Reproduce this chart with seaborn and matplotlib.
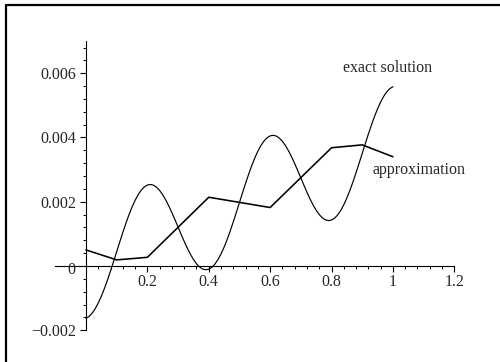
import matplotlib
matplotlib.use("Agg")
import matplotlib.pyplot as plt
from matplotlib.lines import Line2D
from matplotlib.ticker import FixedLocator
import pandas as pd
import seaborn as sns

# Exact solution sampled along [0, 1] in steps of 0.01
exact_x = [round(0.01 * i, 2) for i in range(101)]
exact_y = [-0.00163, -0.001571, -0.00147, -0.001331, -0.00115, -0.000943,
           -0.00070, -0.000438, -0.00015, 0.000142, 0.000445, 0.000748,
           0.001045, 0.001328, 0.001593, 0.001833, 0.002044, 0.002221,
           0.002361, 0.002461, 0.00252, 0.002538, 0.002514, 0.00245,
           0.00235, 0.002216, 0.002052, 0.001864, 0.001657, 0.001437,
           0.00121, 0.000984, 0.000764, 0.000556, 0.000368, 0.000205,
           0.00007, -0.00003, -0.000094, -0.000117, -0.0001, -0.000041,
           0.000059, 0.000199, 0.000376, 0.000587, 0.000827, 0.001092,
           0.001376, 0.001672, 0.001975, 0.002278, 0.002575, 0.002858,
           0.003123, 0.003363, 0.003574, 0.003751, 0.003891, 0.003991,
           0.00405, 0.004068, 0.004044, 0.00398, 0.00388, 0.003746,
           0.003582, 0.003394, 0.003187, 0.002967, 0.00274, 0.002514,
           0.002294, 0.002086, 0.001898, 0.001735, 0.0016, 0.0015,
           0.001436, 0.001413, 0.00143, 0.001489, 0.001589, 0.001729,
           0.001906, 0.002117, 0.002357, 0.002622, 0.002906, 0.003202,
           0.003505, 0.003808, 0.004105, 0.004388, 0.004653, 0.004893,
           0.005104, 0.005281, 0.005421, 0.005521, 0.00558]

# Piecewise-linear approximation at the nodes
approx_x = [0.0, 0.1, 0.2, 0.4, 0.6, 0.8, 0.9, 1.0]
approx_y = [0.0005, 0.00019, 0.00027, 0.00214, 0.00182, 0.00368, 0.00377, 0.0034]

x_ticks = [0.2, 0.4, 0.6, 0.8, 1.0, 1.2]
x_tick_labels = ["0.2", "0.4", "0.6", "0.8", "1", "1.2"]
y_ticks = [-0.002, 0.002, 0.004, 0.006]
y_tick_labels = ["\u22120.002", "0.002", "0.004", "0.006"]

sns.set_theme(style="white")
plt.rcParams["font.family"] = ["Liberation Serif", "DejaVu Serif"]

fig = plt.figure(figsize=(5.0, 3.62), dpi=100)
ax = fig.add_axes([0.1106, 0.0877, 0.798, 0.7988])

exact_df = pd.DataFrame({"x": exact_x, "y": exact_y})
approx_df = pd.DataFrame({"x": approx_x, "y": approx_y})

sns.lineplot(data=exact_df, x="x", y="y", ax=ax, color="black",
             linewidth=0.85, sort=False, estimator=None)
sns.lineplot(data=approx_df, x="x", y="y", ax=ax, color="black",
             linewidth=1.15, sort=False, estimator=None)

ax.set_xlim(-0.1, 1.2)
ax.set_ylim(-0.002, 0.007)
ax.set_xlabel("")
ax.set_ylabel("")

# Axes crossing at the origin
ax.spines["left"].set_position(("data", 0))
ax.spines["bottom"].set_position(("data", 0))
ax.spines["top"].set_visible(False)
ax.spines["right"].set_visible(False)
for s in ("left", "bottom"):
    ax.spines[s].set_color("black")
    ax.spines[s].set_linewidth(0.8)

ax.set_xticks(x_ticks)
ax.set_xticklabels(x_tick_labels)
ax.set_yticks(y_ticks)
ax.set_yticklabels(y_tick_labels)

x_minor = [round(0.04 * i, 2) for i in range(1, 31)]
x_minor = [v for v in x_minor if all(abs(v - t) > 1e-6 for t in x_ticks)]
y_minor = [round(-0.002 + 0.0004 * i, 5) for i in range(1, 23)]
y_minor = [v for v in y_minor if all(abs(v - t) > 1e-9 for t in y_ticks) and abs(v) > 1e-9]
ax.xaxis.set_minor_locator(FixedLocator(x_minor))
ax.yaxis.set_minor_locator(FixedLocator(y_minor))

ax.tick_params(axis="x", which="major", direction="out", length=4, width=0.8,
               color="black", labelsize=11.5, pad=1.5, bottom=True)
ax.tick_params(axis="x", which="minor", direction="out", length=2.5, width=0.7,
               color="black", bottom=True)
ax.tick_params(axis="y", which="major", direction="out", length=4.5, width=0.8,
               color="black", labelsize=11.5, pad=2.5, left=True)
ax.tick_params(axis="y", which="minor", direction="out", length=2.5, width=0.7,
               color="black", left=True)

ax.text(-0.048, -0.00012, "0", fontsize=11.5, ha="center", va="center")
ax.text(0.984, 0.00616, "exact solution", fontsize=11.5, ha="center", va="center")
ax.text(1.085, 0.00299, "approximation", fontsize=11.5, ha="center", va="center")

# Frame lines on the left and top edges
fig.add_artist(Line2D([0.011, 0.011], [0.0, 0.986], transform=fig.transFigure,
                      color="black", linewidth=1.6))
fig.add_artist(Line2D([0.011, 1.0], [0.986, 0.986], transform=fig.transFigure,
                      color="black", linewidth=1.6))

fig.savefig("out.png", dpi=100, facecolor="white")
